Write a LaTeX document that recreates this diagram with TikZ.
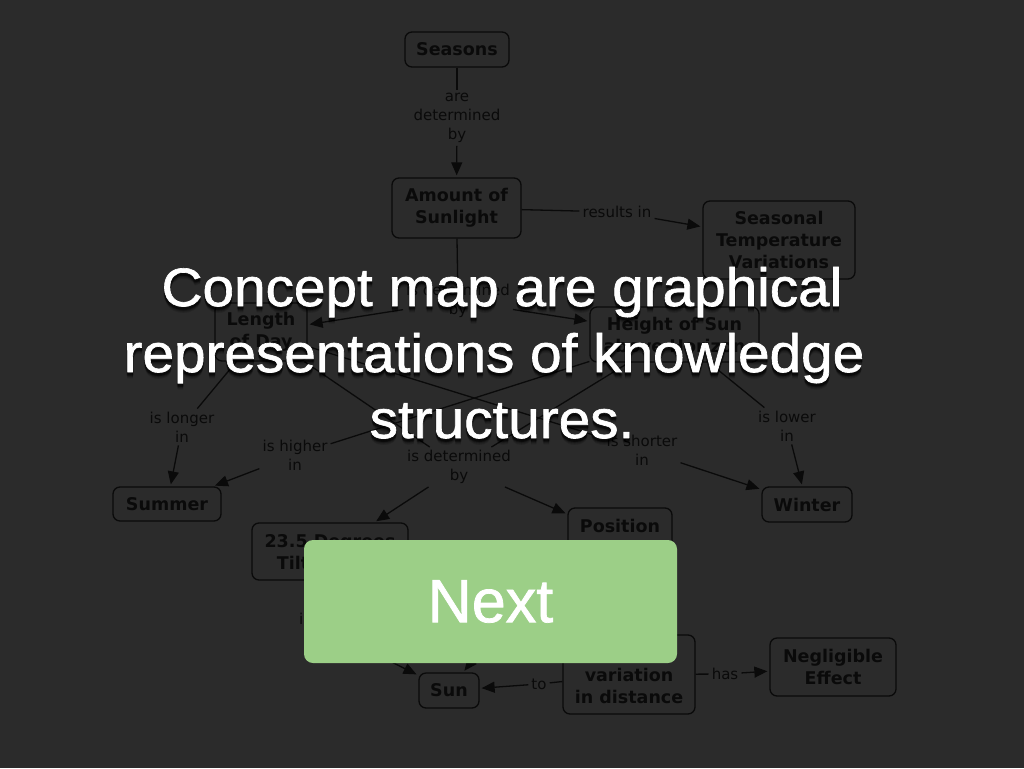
\documentclass[tikz,border=0pt]{standalone}
\usepackage{fontspec}
\setmainfont{Liberation Sans}
\newfontfamily\cmapfont{DejaVu Sans}
\newfontfamily\ovfont[FakeBold=1.2,FakeStretch=1.05]{Liberation Sans}
\newfontfamily\btnfont[FakeBold=1.2]{Liberation Sans}
\usetikzlibrary{arrows.meta}
\definecolor{bg}{HTML}{2B2B2B}
\definecolor{ink}{HTML}{0A0A0A}
\definecolor{btn}{HTML}{9CCF87}
\begin{document}
\begin{tikzpicture}[x=1pt,y=-1pt,
  concept/.style={draw=ink, line width=1.3pt, rounded corners=7pt, text=ink,
    font=\cmapfont\bfseries\fontsize{17.5}{22}\selectfont, align=center, inner sep=0pt},
  link/.style={text=ink, font=\cmapfont\fontsize{15}{19}\selectfont, align=center, inner sep=3pt},
  conn/.style={draw=ink, line width=1.3pt},
  arr/.style={conn, -{Triangle[length=13pt,width=11pt]}, shorten >=2pt},
  ovl/.style={font=\ovfont\fontsize{54}{66}\selectfont, anchor=base, inner sep=0pt},
  btnbox/.style={fill=btn, rounded corners=9pt, inner sep=0pt, text=white,
    font=\btnfont\fontsize{61}{61}\selectfont}
]
\fill[bg] (0,0) rectangle (1024,768);
\useasboundingbox (0,0) rectangle (1024,768);

% concept nodes
\node[concept, minimum width=104pt, minimum height=35pt] (seasons) at (457,49.5) {Seasons};
\node[concept, minimum width=129pt, minimum height=60pt] (amount) at (456.5,208) {Amount of\\Sunlight};
\node[concept, minimum width=152pt, minimum height=78pt] (seasonal) at (779,240) {Seasonal\\Temperature\\Variations};
\node[concept, minimum width=92pt, minimum height=58pt] (length) at (261,332) {Length\\of Day};
\node[concept, minimum width=169pt, minimum height=55pt] (height) at (674.5,334.5) {Height of Sun\\above Horizon};
\node[concept, minimum width=108pt, minimum height=34pt] (summer) at (167,504) {Summer};
\node[concept, minimum width=90pt, minimum height=35pt] (winter) at (807,504.5) {Winter};
\node[concept, minimum width=156pt, minimum height=57pt] (tilt) at (330,551.5) {23.5 Degrees\\Tilt\hbox to 74pt{}};
\node[concept, minimum width=104pt, minimum height=58pt] (position) at (620,537) {Position\\\phantom{in Orbit}};
\node[concept, minimum width=132pt, minimum height=79pt] (variation) at (629,674.5) {\phantom{Slight}\\variation\\in distance};
\node[concept, minimum width=126pt, minimum height=58pt] (negligible) at (833,667) {Negligible\\Effect};
\node[concept, minimum width=60pt, minimum height=35pt] (sun) at (449,690.5) {Sun};

% linking phrases
\node[link] (l1) at (457,118) {are\\determined\\by};
\node[link] (l2) at (617,212) {results in};
\node[link] (l3) at (458,301) {is determined\\by};
\node[link] (l4) at (182,427) {is longer\\in};
\node[link] (l5) at (295,455) {is higher\\in};
\node[link] (l6) at (642,450) {is shorter\\in};
\node[link] (l7) at (787,426) {is lower\\in};
\node[link] (l8) at (459,467) {is determined\\by};
\node[link, anchor=west, inner sep=1pt] (l9) at (298,619) {is};
\node[link] (lto) at (539,684) {to};
\node[link] (lhas) at (725,674) {has};
\coordinate (lp) at (500,625);

% connectors
\draw[conn] (seasons) -- (l1);
\draw[arr] (l1) -- (amount);
\draw[conn] (amount) -- (l2);
\draw[arr] (l2) -- (seasonal);
\draw[conn] (amount) -- (l3);
\draw[arr] (l3) -- (length);
\draw[arr] (l3) -- (height);
\draw[conn] (length) -- (l4);
\draw[arr] (l4) -- (summer);
\draw[conn] (length) -- (l6);
\draw[arr] (l6) -- (winter);
\draw[conn] (length) -- (l8);
\draw[conn] (height) -- (l5);
\draw[arr] (l5) -- (summer);
\draw[conn] (height) -- (l7);
\draw[arr] (l7) -- (winter);
\draw[conn] (height) -- (l8);
\draw[arr] (l8) -- (tilt);
\draw[arr] (l8) -- (position);
\draw[conn] (tilt) -- (l9);
\draw[arr] (l9) -- (sun);
\draw[conn] (position) -- (lp);
\draw[arr] (lp) -- (sun);
\draw[conn] (variation) -- (lto);
\draw[arr] (lto) -- (sun);
\draw[conn] (variation) -- (lhas);
\draw[arr] (lhas) -- (negligible);

% overlay text with soft shadow (mostly below)
\foreach \dx/\dy/\op [count=\i] in {0/2/0.2, 0/3/0.2, 0/4/0.18, 1/3/0.12, -1/3/0.12, 0/5/0.12, 0/6/0.08} {
  \node[ovl, text=black, text opacity=\op] (sa\i) at (502+\dx,306+\dy) {Concept map are graphical};
  \node[ovl, text=black, text opacity=\op] (sb\i) at (494+\dx,372+\dy) {representations of knowledge};
  \node[ovl, text=black, text opacity=\op] (sc\i) at (502+\dx,438+\dy) {structures.};
}
\node[ovl, text=white] (ta) at (502,306) {Concept map are graphical};
\node[ovl, text=white] (tb) at (494,372) {representations of knowledge};
\node[ovl, text=white] (tc) at (502,438) {structures.};

% button
\node[btnbox, minimum width=373pt, minimum height=123pt] (next) at (490.5,601.5) {Next};
\end{tikzpicture}
\end{document}
